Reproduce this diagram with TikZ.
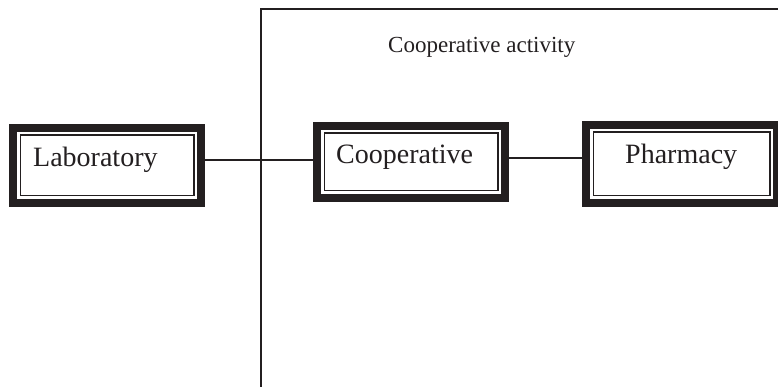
\documentclass[tikz,border=0pt]{standalone}
\usepackage{fontspec}
\setmainfont{Liberation Serif}
\begin{document}
\definecolor{ink}{RGB}{35,31,32}
\begin{tikzpicture}[x=1pt,y=1pt,
  boxshape/.style={rectangle,draw=none,inner sep=0pt,minimum width=#1},
  outerband/.style={draw=ink,line width=8pt,line join=miter},
  innerline/.style={draw=ink,line width=1.6pt},
  connector/.style={draw=ink,line width=1.3pt},
  frameline/.style={draw=ink,line width=1.5pt},
  boxtext/.style={anchor=base west,inner sep=0pt,font=\fontsize{28}{32}\selectfont,text=ink},
  captiontext/.style={anchor=base west,inner sep=0pt,font=\fontsize{23}{27}\selectfont,text=ink}]
\useasboundingbox (0,0) rectangle (778,387);
\clip (0,0) rectangle (778,387);
\fill[white] (0,0) rectangle (778,387);

% enclosing frame of the cooperative activity (top and left edges)
\coordinate (frtop) at (261,378);
\coordinate (frright) at (790,378);
\coordinate (frbottom) at (261,-5);
\draw[frameline] (frright) -- (frtop) -- (frbottom);
\node[captiontext] (caption) at (388,334) {Cooperative activity};

% boxes
\node[boxshape=196pt,minimum height=83pt] (lab) at (107,221.5) {};
\node[boxshape=196pt,minimum height=80pt] (coop) at (411,225) {};
\node[boxshape=199pt,minimum height=86pt] (pharm) at (681.5,223) {};

\foreach \n in {lab,coop,pharm}{
  \draw[outerband] ([shift={(4,-4)}]\n.north west) rectangle ([shift={(-4,4)}]\n.south east);
  \draw[innerline] ([shift={(11.5,-11.5)}]\n.north west) rectangle ([shift={(-11.5,11.5)}]\n.south east);
}

\node[boxtext] (labtxt) at (33,220) {Laboratory};
\node[boxtext] (cooptxt) at (336,223) {Cooperative};
\node[boxtext] (pharmtxt) at (625,223) {Pharmacy};

% connectors
\draw[connector] ([yshift=5.5pt]lab.east) -- ([yshift=2pt]coop.west);
\draw[connector] ([yshift=4pt]coop.east) -- ([yshift=6pt]pharm.west);
\end{tikzpicture}
\end{document}
